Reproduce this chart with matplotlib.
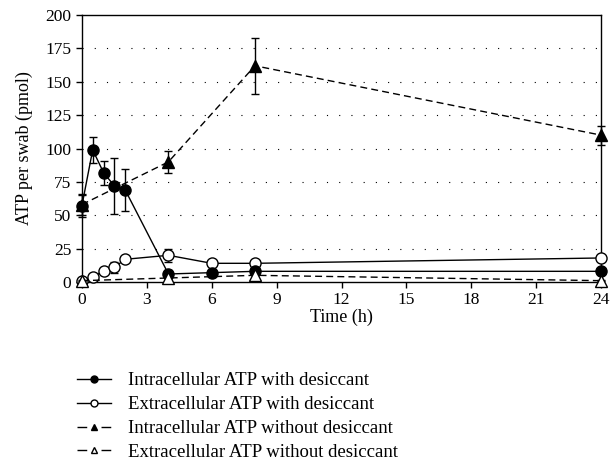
import matplotlib
matplotlib.use('Agg')
import matplotlib.pyplot as plt
from matplotlib.lines import Line2D

plt.rcParams['font.family'] = ['Liberation Serif', 'DejaVu Serif']

t_des = [0, 0.5, 1, 1.5, 2, 4, 6, 8, 24]
intra_des = [57, 99, 82, 72, 69, 6, 7, 8, 8]
intra_des_err = [8, 10, 9, 21, 16, 3, 1, 1, 1]
extra_des = [1, 4, 8, 11, 17, 20, 14, 14, 18]
extra_des_err = [0.5, 0.5, 1, 4, 1, 5, 1, 1, 1]

t_nodes = [0, 4, 8, 24]
intra_nodes = [58, 90, 162, 110]
intra_nodes_err = [8, 8, 21, 7]
extra_nodes = [1, 3, 5, 1]
extra_nodes_err = [0.5, 1, 1, 0.5]

labels = ['Intracellular ATP with desiccant',
          'Extracellular ATP with desiccant',
          'Intracellular ATP without desiccant',
          'Extracellular ATP without desiccant']

fig = plt.figure(figsize=(6.11, 4.70), dpi=100)
ax = fig.add_axes([0.134, 0.4, 0.85, 0.568])

dash = (0, (5, 3))
ebkw = dict(ecolor='black', elinewidth=1, capsize=3, capthick=1, clip_on=False)
ax.errorbar(t_des, intra_des, yerr=intra_des_err, color='black', lw=1,
            marker='o', ms=8, mfc='black', mec='black', zorder=4, **ebkw)
ax.errorbar(t_des, extra_des, yerr=extra_des_err, color='black', lw=1,
            marker='o', ms=8, mfc='white', mec='black', zorder=3, **ebkw)
ax.errorbar(t_nodes, intra_nodes, yerr=intra_nodes_err, color='black', lw=1,
            ls=dash, marker='^', ms=8, mfc='black', mec='black', zorder=4, **ebkw)
ax.errorbar(t_nodes, extra_nodes, yerr=extra_nodes_err, color='black', lw=1,
            ls=dash, marker='^', ms=8, mfc='white', mec='black', zorder=5, **ebkw)

ax.set_xlim(0, 24)
ax.set_ylim(0, 200)
ax.set_xticks(range(0, 25, 3))
ax.set_yticks(range(0, 201, 25))
ax.set_xlabel('Time (h)', fontsize=13, labelpad=0)
ax.set_ylabel('ATP per swab (pmol)', fontsize=13, labelpad=9)
ax.tick_params(labelsize=12.5, direction='out', length=4, width=1)
for y in range(25, 200, 25):
    ax.axhline(y, color='black', lw=0.8, ls=(0, (1, 10)), zorder=0)
for s in ax.spines.values():
    s.set_linewidth(1)

leg_dash = (0, (7, 10.3))
handles = [
    Line2D([], [], color='black', lw=1, marker='o', ms=5, mfc='black', mec='black'),
    Line2D([], [], color='black', lw=1, marker='o', ms=5, mfc='white', mec='black'),
    Line2D([], [], color='black', lw=1, ls=leg_dash, marker='^', ms=5, mfc='black', mec='black'),
    Line2D([], [], color='black', lw=1, ls=leg_dash, marker='^', ms=5, mfc='white', mec='black'),
]
fig.legend(handles, labels, loc='upper left', bbox_to_anchor=(0.126, 0.208),
           frameon=False, fontsize=13.5, handlelength=1.8, borderpad=0,
           borderaxespad=0, labelspacing=0.36, handletextpad=0.9)

fig.savefig('out.png', dpi=100)
